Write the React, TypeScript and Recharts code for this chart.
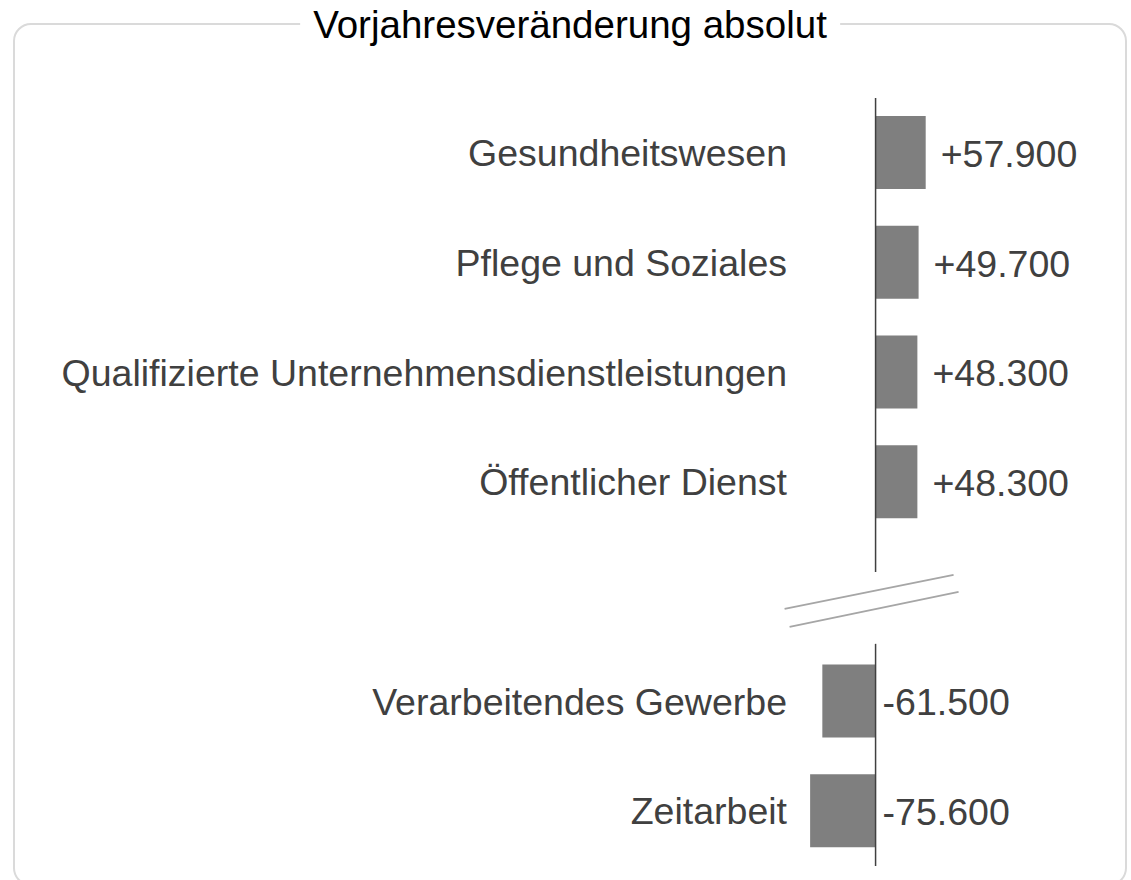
import { BarChart, Bar, XAxis, YAxis, ReferenceLine, LabelList } from 'recharts'

const categories = [
  'Gesundheitswesen',
  'Pflege und Soziales',
  'Qualifizierte Unternehmensdienstleistungen',
  'Öffentlicher Dienst',
  ' ',
  'Verarbeitendes Gewerbe',
  'Zeitarbeit',
]
const changes: (number | null)[] = [57900, 49700, 48300, 48300, null, -61500, -75600]
const breakIndex = 4

const data = categories.map((name, i) => ({ name, value: changes[i] }))

const FONT = "'Liberation Sans', Arial, sans-serif"
const TEXT = '#404040'
const FS = 37.5

const fmt = (v: number) => {
  const s = Math.abs(v).toString().replace(/\B(?=(\d{3})+(?!\d))/g, '.')
  return (v > 0 ? '+' : '-') + s
}

// value label: right of the bar end for gains, right of the axis for losses
const ValueLabel = (props: any) => {
  const { x, y, width, height, value } = props
  if (value == null) return null
  const right = Math.max(x, x + width)
  const cy = y + height / 2
  return (
    <text
      x={right + (value > 0 ? 15 : 7)}
      y={cy + FS * 0.358 + 1}
      fill={TEXT}
      fontSize={FS}
      fontFamily={FONT}>
      {fmt(value)}
    </text>
  )
}

// zero line with a gap and two slanted break marks in the empty slot
const AxisWithBreak = (props: any) => {
  const x = props.x1
  const yTop = Math.min(props.y1, props.y2)
  const yBottom = Math.max(props.y1, props.y2)
  const slot = (yBottom - yTop) / categories.length
  const top = yTop + breakIndex * slot
  return (
    <g>
      <line x1={x} y1={yTop} x2={x} y2={top + slot * 0.32} stroke="#404040" strokeWidth={1.5} />
      <line x1={x} y1={top + slot * 0.975} x2={x} y2={yBottom} stroke="#404040" strokeWidth={1.5} />
      <line x1={x - 91} y1={top + 72} x2={x + 78} y2={top + 38} stroke="#a6a6a6" strokeWidth={2} />
      <line x1={x - 86} y1={top + 90} x2={x + 83} y2={top + 55} stroke="#a6a6a6" strokeWidth={2} />
    </g>
  )
}

export default function App() {
  return (
    <div style={{ position: 'absolute', left: 0, top: 0, width: 1131, height: 880, background: '#fff', overflow: 'hidden', fontFamily: FONT }}>
      <div
        style={{
          position: 'absolute',
          left: 13,
          top: 23,
          width: 1114,
          height: 863,
          boxSizing: 'border-box',
          border: '2px solid #dadada',
          borderRadius: 18,
        }}
      />
      <div
        style={{
          position: 'absolute',
          left: 570,
          top: 6,
          transform: 'translateX(-50%)',
          background: '#fff',
          padding: '0 13px',
          fontSize: 38.5,
          lineHeight: '38px',
          color: '#000',
          whiteSpace: 'nowrap',
        }}>
        Vorjahresveränderung absolut
      </div>
      <div style={{ position: 'absolute', left: 0, top: 0 }}>
        <BarChart
          width={1131}
          height={880}
          data={data}
          layout="vertical"
          margin={{ top: 98, right: 39, bottom: 14, left: 0 }}>
          <XAxis type="number" hide domain={[-100000, 250000]} allowDataOverflow />
          <YAxis
            type="category"
            dataKey="name"
            width={789}
            axisLine={false}
            tickLine={false}
            tickSize={0}
            tickMargin={2}
            interval={0}
            tick={{ fill: TEXT, fontSize: FS, fontFamily: FONT }}
          />
          <Bar dataKey="value" fill="#7f7f7f" barSize={73} isAnimationActive={false}>
            <LabelList dataKey="value" content={ValueLabel} />
          </Bar>
          <ReferenceLine x={0} shape={AxisWithBreak} />
        </BarChart>
      </div>
    </div>
  )
}
